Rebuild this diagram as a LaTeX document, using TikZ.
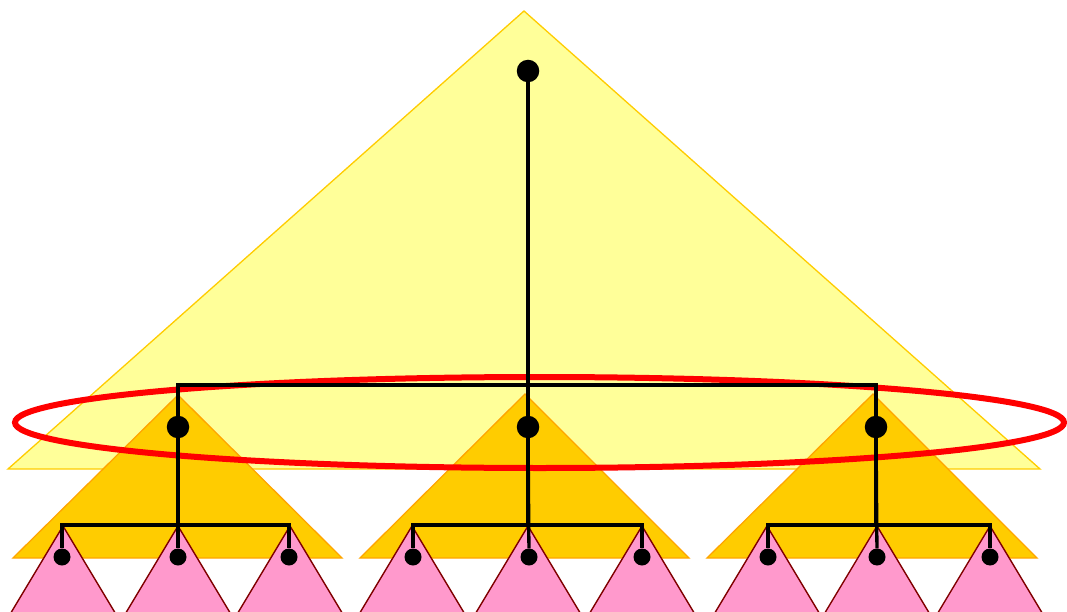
\documentclass[tikz,border=0pt]{standalone}
\definecolor{paleyellow}{HTML}{FFFF99}
\definecolor{goldline}{HTML}{FFCC00}
\definecolor{ambfill}{HTML}{FFCC00}
\definecolor{ambline}{HTML}{FFA500}
\definecolor{rosefill}{HTML}{FF99CC}
\definecolor{roseline}{HTML}{800000}
\begin{document}
\begin{tikzpicture}[x=1pt,y=-1pt,
    vertex/.style={circle,fill=black,inner sep=0pt,minimum size=22.5pt},
    leafdot/.style={circle,fill=black,inner sep=0pt,minimum size=17pt},
    edge/.style={line width=3.3pt},
    bigtri/.style={fill=paleyellow,draw=goldline,line width=1.3pt},
    midtri/.style={fill=ambfill,draw=ambline,line width=1.3pt},
    smalltri/.style={fill=rosefill,draw=roseline,line width=1.4pt}]
    % Khung hinh: 1067 x 612
    \useasboundingbox (0,0) rectangle (1067,612);
    \clip (0,0) rectangle (1067,612);

    % 1. Tam giac lon (mau vang nhat)
    \fill[bigtri] (524,11) -- (1040,469) -- (8,469) -- cycle;

    % 2. Ba tam giac cam
    \fill[midtri] (178,395) -- (342,558) -- (13,558) -- cycle;
    \fill[midtri] (525,394) -- (689,558) -- (360,558) -- cycle;
    \fill[midtri] (873,394) -- (1037,558) -- (707,558) -- cycle;

    % 3. Chin tam giac hong (bi cat o day hinh)
    \fill[smalltri] (63,526) -- (123,626) -- (3,626) -- cycle;
    \fill[smalltri] (178,526) -- (238,626) -- (118,626) -- cycle;
    \fill[smalltri] (290,526) -- (350,626) -- (230,626) -- cycle;
    \fill[smalltri] (412,526) -- (472,626) -- (352,626) -- cycle;
    \fill[smalltri] (528,526) -- (588,626) -- (468,626) -- cycle;
    \fill[smalltri] (642,526) -- (702,626) -- (582,626) -- cycle;
    \fill[smalltri] (767,526) -- (827,626) -- (707,626) -- cycle;
    \fill[smalltri] (877,526) -- (937,626) -- (817,626) -- cycle;
    \fill[smalltri] (990,526) -- (1050,626) -- (930,626) -- cycle;

    % 4. Elip do bao cac nut con
    \draw[red,line width=6pt] (539.5,422.5) ellipse [x radius=524.5, y radius=45.5];

    % 5. Cac nut cua cay
    \node[vertex] (root) at (528,71) {};
    \node[vertex] (c1) at (178,427) {};
    \node[vertex] (c2) at (528,427) {};
    \node[vertex] (c3) at (876,427) {};
    \node[leafdot] (g11) at (62,557) {};
    \node[leafdot] (g12) at (178,557) {};
    \node[leafdot] (g13) at (289,557) {};
    \node[leafdot] (g21) at (413,557) {};
    \node[leafdot] (g22) at (529,557) {};
    \node[leafdot] (g23) at (642,557) {};
    \node[leafdot] (g31) at (768,557) {};
    \node[leafdot] (g32) at (877,557) {};
    \node[leafdot] (g33) at (990,557) {};

    % Hai thanh ngang
    \coordinate (bar1) at (0,385);
    \coordinate (bar2) at (0,525);

    % 6. Canh noi goc voi cac con
    \draw[edge] (root) -- (root |- bar1) -| (c1);
    \draw[edge] (root) -- (c2);
    \draw[edge] (root |- bar1) -| (c3);

    % 7. Canh noi con voi chau
    \draw[edge] (c1) -- (c1 |- bar2) -| (g11);
    \draw[edge] (c1) -- (g12);
    \draw[edge] (c1 |- bar2) -| (g13);
    \draw[edge] (c2) -- (c2 |- bar2) -| (g21);
    \draw[edge] (c2) -- (g22);
    \draw[edge] (c2 |- bar2) -| (g23);
    \draw[edge] (c3) -- (c3 |- bar2) -| (g31);
    \draw[edge] (c3) -- (g32);
    \draw[edge] (c3 |- bar2) -| (g33);

\end{tikzpicture}
\end{document}
